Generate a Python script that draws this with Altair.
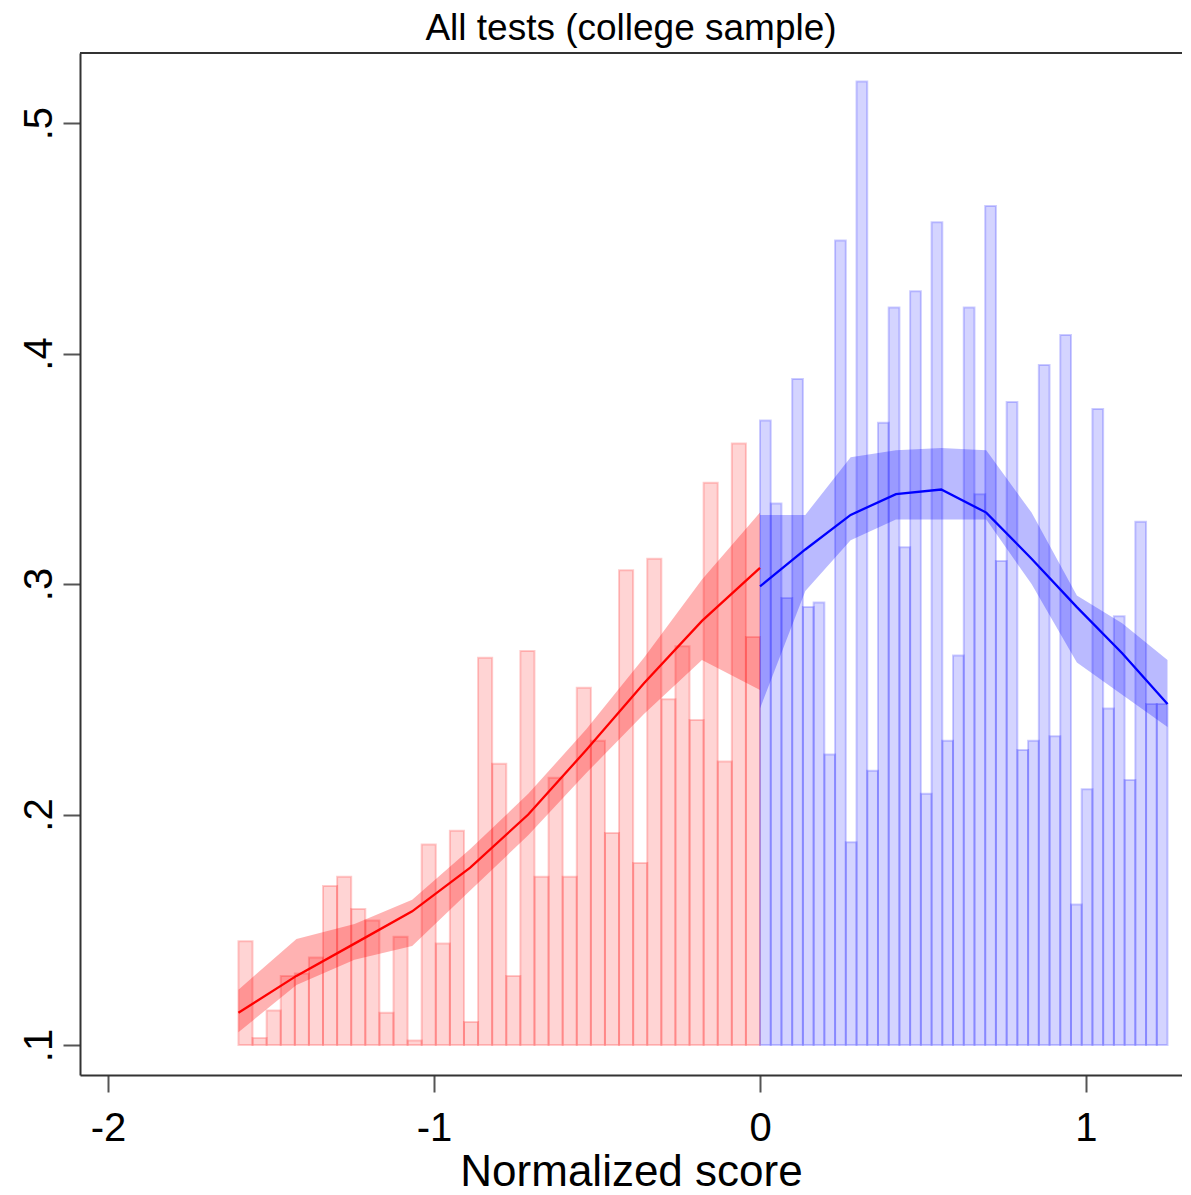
import altair as alt
import pandas as pd

title_text = "All tests (college sample)"
x_title = "Normalized score"

# histogram (bin means), left of cutoff: 37 bins on [-1.6, 0]
red_heights = [0.145, 0.103, 0.115, 0.130, 0.131, 0.138, 0.169, 0.173, 0.159, 0.154,
               0.114, 0.147, 0.102, 0.187, 0.144, 0.193, 0.110, 0.268, 0.222, 0.130,
               0.271, 0.173, 0.216, 0.173, 0.255, 0.232, 0.192, 0.306, 0.179, 0.311,
               0.250, 0.273, 0.241, 0.344, 0.223, 0.361, 0.277]
red_range = [-1.6, 0.0]
# right of cutoff: 38 bins on [0, 1.25]
blue_heights = [0.371, 0.335, 0.294, 0.389, 0.290, 0.292, 0.226, 0.449, 0.188, 0.518,
                0.219, 0.370, 0.420, 0.316, 0.427, 0.209, 0.457, 0.232, 0.269, 0.420,
                0.339, 0.464, 0.310, 0.379, 0.228, 0.232, 0.395, 0.234, 0.408, 0.161,
                0.211, 0.376, 0.246, 0.286, 0.215, 0.327, 0.248, 0.248]
blue_range = [0.0, 1.25]
bar_base = 0.1

# local polynomial fits and confidence bands
red_x = [-1.6, -1.422, -1.244, -1.067, -0.889, -0.711, -0.533, -0.356, -0.178, 0.0]
red_fit = [0.114, 0.130, 0.144, 0.158, 0.177, 0.200, 0.228, 0.257, 0.284, 0.307]
red_lo = [0.1056, 0.126, 0.137, 0.143, 0.167, 0.191, 0.218, 0.2436, 0.267, 0.254]
red_hi = [0.124, 0.146, 0.1525, 0.163, 0.185, 0.209, 0.237, 0.268, 0.302, 0.331]

blue_x = [0.0, 0.139, 0.278, 0.417, 0.556, 0.694, 0.833, 0.972, 1.111, 1.25]
blue_fit = [0.299, 0.315, 0.330, 0.339, 0.341, 0.331, 0.311, 0.290, 0.270, 0.248]
blue_lo = [0.246, 0.297, 0.319, 0.328, 0.328, 0.328, 0.300, 0.266, 0.252, 0.238]
blue_hi = [0.330, 0.330, 0.355, 0.358, 0.359, 0.358, 0.331, 0.295, 0.283, 0.267]

x_ticks = [-2, -1, 0, 1]
y_ticks = [0.1, 0.2, 0.3, 0.4, 0.5]


def bins_df(heights, rng):
    n = len(heights)
    w = (rng[1] - rng[0]) / n
    return pd.DataFrame({
        "x": [rng[0] + i * w for i in range(n)],
        "x2": [rng[0] + (i + 1) * w for i in range(n)],
        "top": heights,
        "base": [bar_base] * n,
    })


red_bins = bins_df(red_heights, red_range)
blue_bins = bins_df(blue_heights, blue_range)
red_fit_df = pd.DataFrame({"x": red_x, "fit": red_fit, "lo": red_lo, "hi": red_hi})
blue_fit_df = pd.DataFrame({"x": blue_x, "fit": blue_fit, "lo": blue_lo, "hi": blue_hi})

W, H = 1102, 1022
FONT = "Liberation Sans"

xs = alt.Scale(domain=[-2.086, 1.2945], nice=False, zero=False)
ys = alt.Scale(domain=[0.087, 0.5304], nice=False, zero=False)

xaxis = alt.Axis(values=x_ticks, labelExpr="'' + datum.value", grid=False,
                 tickSize=17, tickWidth=2, tickColor="#555555",
                 domainColor="#333333", domainWidth=2,
                 labelFont=FONT, labelFontSize=40, labelColor="black", labelPadding=16,
                 titleFont=FONT, titleFontSize=44, titleFontWeight="normal",
                 titleColor="black", titleBaseline="alphabetic", titleY=110,
                 labelFlush=False)
yaxis = alt.Axis(values=y_ticks, labelExpr="substring(format(datum.value, '.1f'), 1)",
                 grid=False, tickSize=17, tickWidth=2, tickColor="#555555",
                 domainColor="#333333", domainWidth=2,
                 labelFont=FONT, labelFontSize=40, labelColor="black",
                 labelAngle=270, labelAlign="center", labelBaseline="bottom",
                 labelPadding=4, labelFlush=False)


def bars(df, color):
    return alt.Chart(df).mark_rect(fill=color, fillOpacity=0.17, stroke=color,
                                   strokeOpacity=0.2, strokeWidth=2).encode(
        x=alt.X("x:Q", scale=xs, axis=xaxis, title=x_title),
        x2="x2:Q",
        y=alt.Y("top:Q", scale=ys, axis=yaxis, title=None),
        y2="base:Q",
    )


def band(df, color, op):
    return alt.Chart(df).mark_area(color=color, opacity=op).encode(
        x=alt.X("x:Q", scale=xs, axis=xaxis, title=x_title),
        y=alt.Y("lo:Q", scale=ys, axis=yaxis, title=None),
        y2="hi:Q",
    )


def line(df, color):
    return alt.Chart(df).mark_line(color=color, strokeWidth=2.3).encode(
        x=alt.X("x:Q", scale=xs, axis=xaxis, title=x_title),
        y=alt.Y("fit:Q", scale=ys, axis=yaxis, title=None),
    )


top_border = alt.Chart(pd.DataFrame({"a": [0]})).mark_rule(
    color="#333333", strokeWidth=2).encode(
    y=alt.value(0), x=alt.value(0), x2=alt.value(W))

chart = alt.layer(
    bars(red_bins, "#ff0000"),
    bars(blue_bins, "#0000ff"),
    band(red_fit_df, "#ff0000", 0.3),
    band(blue_fit_df, "#0000ff", 0.27),
    line(red_fit_df, "#ff0000"),
    line(blue_fit_df, "#0000ff"),
    top_border,
).properties(
    width=W, height=H,
    autosize=alt.AutoSizeParams(type="none"),
    padding={"left": 72, "top": 45, "right": 0, "bottom": 112},
    title=alt.TitleParams(title_text, font=FONT, fontSize=37, fontWeight="normal",
                          color="black", anchor="middle", offset=4),
).configure_view(stroke=None)

chart.save("out.html", embed_options={"renderer": "svg", "actions": False})
